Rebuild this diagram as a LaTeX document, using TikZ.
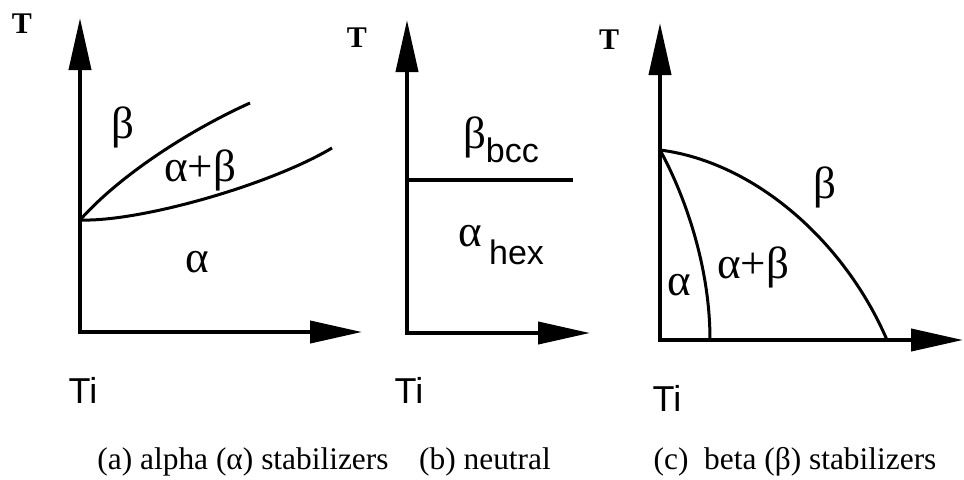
\documentclass[tikz,border=0pt]{standalone}
\usepackage{fontspec}
\setmainfont{Liberation Serif}
\newfontfamily\sansf{Liberation Sans}
\usetikzlibrary{arrows.meta}

\tikzset{
  axis/.style={line width=2pt, line join=miter,
    {Triangle[length=26pt,width=11pt]}-{Triangle[length=26pt,width=11pt]}},
  border/.style={line width=1.5pt},
  phase/.style={font=\fontsize{22.5}{26}\selectfont},
  elem/.style={font=\sansf\fontsize{18}{22}\selectfont},
  templ/.style={font=\bfseries\fontsize{15}{18}\selectfont},
  capt/.style={font=\fontsize{15.7}{19}\selectfont}
}

\begin{document}
\begin{tikzpicture}[x=0.5pt,y=-0.5pt]
  \useasboundingbox (0,0) rectangle (964,479);

  % (a) alpha stabilizers
  \coordinate (Oa) at (80,332);
  \coordinate (Ya) at (80,18);
  \coordinate (Xa) at (362,332);
  \draw[axis] (Ya) -- (Oa) -- (Xa);
  \coordinate (Pa) at (80,220);
  \coordinate (Ua) at (250,103);
  \coordinate (La) at (332,148);
  \draw[border] (Pa) .. controls (120,175) and (190,130) .. (Ua);
  \draw[border] (Pa) .. controls (140,222) and (270,185) .. (La);
  \node[templ] (Ta) at (22,24) {T};
  \node[phase] (beta_a) at (123,127) {β};
  \node[phase] (ab_a) at (200,170) {α+β};
  \node[phase] (alpha_a) at (197,262) {α};
  \node[elem] (Ti_a) at (83,390) {Ti};
  \node[capt] (cap_a) at (243,462) {(a) alpha (α) stabilizers};

  % (b) neutral
  \coordinate (Ob) at (407,333);
  \coordinate (Yb) at (407,20);
  \coordinate (Xb) at (590,333);
  \draw[axis] (Yb) -- (Ob) -- (Xb);
  \coordinate (Pb) at (407,180);
  \coordinate (Eb) at (573,180);
  \draw[line width=2pt] (Pb) -- (Eb);
  \node[templ] (Tb) at (357,38) {T};
  \node[phase] (beta_b) at (501,140) {β\raisebox{-0.3em}{\sansf\fontsize{17}{20}\selectfont bcc}};
  \node[phase] (alpha_b) at (501,245) {α\,\raisebox{-0.4em}{\sansf\fontsize{17}{20}\selectfont hex}};
  \node[elem] (Ti_b) at (409,390) {Ti};
  \node[capt] (cap_b) at (485,462) {(b) neutral};

  % (c) beta stabilizers
  \coordinate (Oc) at (660,340);
  \coordinate (Yc) at (660,23);
  \coordinate (Xc) at (963,340);
  \draw[axis] (Yc) -- (Oc) -- (Xc);
  \coordinate (Pc) at (660,150);
  \coordinate (Ic) at (710,340);
  \coordinate (Rc) at (887,340);
  \draw[border] (Pc) .. controls (682,190) and (710,262) .. (Ic);
  \draw[border] (Pc) .. controls (755,162) and (845,242) .. (Rc);
  \node[templ] (Tc) at (609,40) {T};
  \node[phase] (beta_c) at (825,187) {β};
  \node[phase] (ab_c) at (753,267) {α+β};
  \node[phase] (alpha_c) at (679,285) {α};
  \node[elem] (Ti_c) at (667,398) {Ti};
  \node[capt] (cap_c) at (795,462) {(c)\ \ beta (β) stabilizers};
\end{tikzpicture}
\end{document}
